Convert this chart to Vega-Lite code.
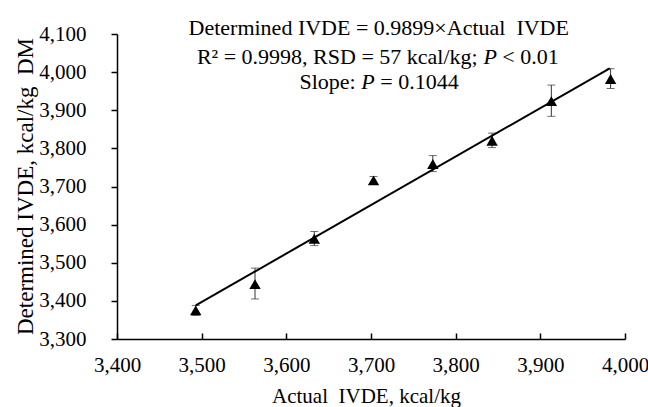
{
  "$schema": "https://vega.github.io/schema/vega-lite/v6.json",
  "width": 508,
  "height": 305,
  "autosize": {"type": "none"},
  "padding": {"left": 117, "top": 34, "right": 23, "bottom": 68},
  "background": "white",
  "config": {
    "view": {"stroke": null},
    "font": "Liberation Serif",
    "axis": {
      "domainColor": "black",
      "domainWidth": 1.5,
      "tickColor": "black",
      "tickWidth": 1.5,
      "grid": false,
      "labelFont": "Liberation Serif",
      "labelFontSize": 21,
      "labelColor": "black",
      "labelOverlap": false,
      "labelSeparation": -10,
      "titleFont": "Liberation Serif",
      "titleFontSize": 21,
      "titleFontWeight": "normal",
      "titleColor": "black"
    },
    "axisY": {"labelOverlap": false, "labelFont": "Liberation Serif", "labelSeparation": -10},
    "axisX": {"labelOverlap": false, "labelFont": "Liberation Serif"},
    "axisQuantitative": {"labelOverlap": false, "labelFont": "Liberation Serif", "tickCount": 10}
  },
  "datasets": {
    "pts": [
      {"actual": 3493, "det": 3375, "low": 3362, "high": 3388},
      {"actual": 3563, "det": 3444, "low": 3405, "high": 3486},
      {"actual": 3633, "det": 3563, "low": 3545, "high": 3582},
      {"actual": 3703, "det": 3716, "low": 3707, "high": 3726},
      {"actual": 3773, "det": 3759, "low": 3739, "high": 3781},
      {"actual": 3843, "det": 3820, "low": 3802, "high": 3840},
      {"actual": 3913, "det": 3924, "low": 3884, "high": 3966},
      {"actual": 3983, "det": 3982, "low": 3957, "high": 4009}
    ],
    "fit": [
      {"actual": 3493, "det": 3388},
      {"actual": 3982, "det": 4010}
    ],
    "txt": [
      {"x": 3484.5, "y": 4097, "t": "Determined IVDE = 0.9899×Actual\u00a0 IVDE"},
      {"x": 3494.4, "y": 4021, "t": "R² = 0.9998, RSD = 57 kcal/kg;"},
      {"x": 3855, "y": 4021, "t": "< 0.01"},
      {"x": 3615.5, "y": 3956, "t": "Slope:"},
      {"x": 3711, "y": 3956, "t": "= 0.1044"}
    ],
    "ital": [
      {"x": 3833, "y": 4021, "t": "P"},
      {"x": 3688.4, "y": 3956, "t": "P"}
    ]
  },
  "encoding": {
    "x": {"field": "actual", "type": "quantitative", "scale": {"domain": [3400, 4000]},
      "axis": {"values": [3400, 3500, 3600, 3700, 3800, 3900, 4000], "format": ",d", "tickSize": -6, "labelPadding": 38, "labelBaseline": "alphabetic",
        "labelFont": "Liberation Serif", "labelFontSize": 21, "labelOverlap": false, "labelFlush": false,
        "title": "Actual\u00a0 IVDE, kcal/kg", "titleFont": "Liberation Serif", "titleY": 63, "titleX": 249, "titleBaseline": "alphabetic"}},
    "y": {"field": "det", "type": "quantitative", "scale": {"domain": [3300, 4100]},
      "axis": {"values": [3300, 3400, 3500, 3600, 3700, 3800, 3900, 4000, 4100], "format": ",d", "tickSize": 6, "labelPadding": 25,
        "labelFont": "Liberation Serif", "labelFontSize": 21, "labelOverlap": false, "labelSeparation": -10, "labelFlush": false, "labelBound": false,
        "title": "Determined IVDE, kcal/kg\u00a0 DM", "titleFont": "Liberation Serif", "titleFontSize": 23, "titleX": -85, "titleY": 152, "titleBaseline": "alphabetic", "titleAngle": 270}}
  },
  "layer": [
    {
      "data": {"name": "pts"},
      "mark": {"type": "rule", "color": "#333333", "strokeWidth": 1},
      "encoding": {
        "y": {"field": "low", "type": "quantitative"},
        "y2": {"field": "high"}
      }
    },
    {
      "data": {"name": "pts"},
      "mark": {"type": "tick", "orient": "horizontal", "color": "#333333", "thickness": 1, "size": 8},
      "encoding": {
        "y": {"field": "low", "type": "quantitative"}
      }
    },
    {
      "data": {"name": "pts"},
      "mark": {"type": "tick", "orient": "horizontal", "color": "#333333", "thickness": 1, "size": 8},
      "encoding": {
        "y": {"field": "high", "type": "quantitative"}
      }
    },
    {
      "data": {"name": "fit"},
      "mark": {"type": "line", "color": "black", "strokeWidth": 2},
      "encoding": {}
    },
    {
      "data": {"name": "pts"},
      "mark": {"type": "point", "shape": "triangle-up", "filled": true, "color": "black", "opacity": 1, "size": 130},
      "encoding": {}
    },
    {
      "data": {"name": "txt"},
      "mark": {"type": "text", "align": "left", "baseline": "alphabetic", "font": "Liberation Serif", "fontSize": 22, "color": "black"},
      "encoding": {
        "x": {"field": "x", "type": "quantitative"},
        "y": {"field": "y", "type": "quantitative"},
        "text": {"field": "t"}
      }
    },
    {
      "data": {"name": "ital"},
      "mark": {"type": "text", "align": "left", "baseline": "alphabetic", "font": "Liberation Serif", "fontSize": 22, "fontStyle": "italic", "color": "black"},
      "encoding": {
        "x": {"field": "x", "type": "quantitative"},
        "y": {"field": "y", "type": "quantitative"},
        "text": {"field": "t"}
      }
    }
  ]
}
